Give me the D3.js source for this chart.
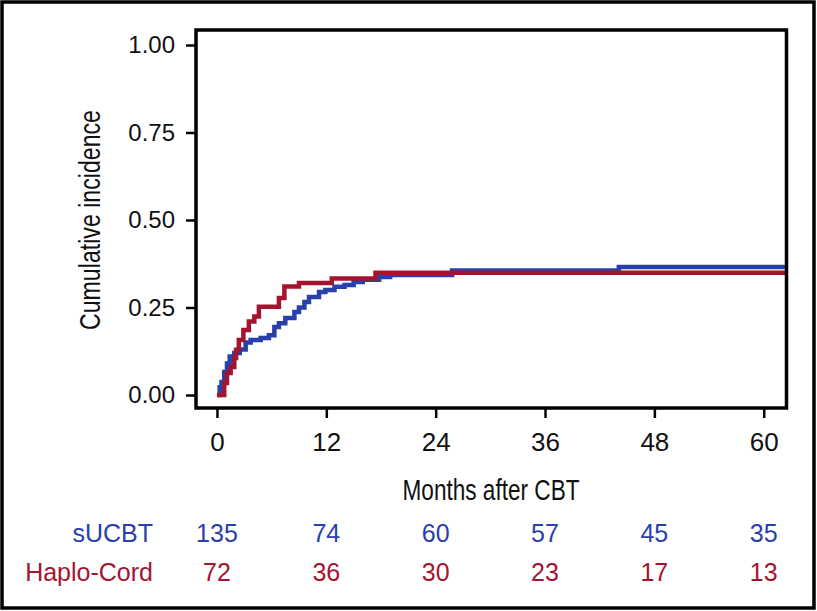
<!DOCTYPE html>
<html>
<head>
<meta charset="utf-8">
<style>
  body { margin: 0; background: #fff; }
  .frame { fill: none; stroke: #000; stroke-width: 3.5px; }
  .axis path { display: none; }
  .axis line { stroke: #000; stroke-width: 2.5px; }
  .axis text { font-family: "Liberation Sans", Arial, sans-serif; fill: #111; }
  .curve { fill: none; stroke-width: 4.5px; }
</style>
</head>
<body>
<script src="https://d3js.org/d3.v7.min.js"></script>
<script>
// step points [month, cumulative incidence]
var sucbt = [
  [0, 0], [0.3, 0.022], [0.5, 0.037], [0.8, 0.066], [1.1, 0.09], [1.4, 0.11],
  [1.9, 0.12], [2.5, 0.13], [3.15, 0.15], [3.7, 0.157], [4.8, 0.163], [5.7, 0.171],
  [6.3, 0.194], [6.8, 0.205], [7.5, 0.22], [8.5, 0.237], [9.0, 0.25], [9.6, 0.266],
  [10.1, 0.28], [11.2, 0.294], [11.9, 0.3], [12.9, 0.309], [14.0, 0.314],
  [15.0, 0.323], [16.0, 0.329], [17.8, 0.337], [19.0, 0.343], [25.8, 0.356],
  [44.1, 0.366], [62.5, 0.366]
];
var haplo = [
  [0, 0], [0.8, 0.034], [1.1, 0.063], [1.5, 0.08], [1.9, 0.106], [2.1, 0.129],
  [2.4, 0.157], [2.9, 0.186], [3.5, 0.21], [4.1, 0.224], [4.6, 0.252], [6.8, 0.277],
  [7.4, 0.31], [9.0, 0.32], [12.6, 0.333], [17.4, 0.349], [62.5, 0.349]
];
var xTicks = [0, 12, 24, 36, 48, 60];
var yTicks = [0, 0.25, 0.5, 0.75, 1];
var groups = ["sUCBT", "Haplo-Cord"];
var atRisk = [[135, 74, 60, 57, 45, 35], [72, 36, 30, 23, 17, 13]];
var colors = ["#2840ab", "#a5142f"];

var W = 817, H = 611;
var box = {left: 196, right: 786.5, top: 30, bottom: 408};

var svg = d3.select("body").append("svg")
  .attr("width", W).attr("height", H);

// outer frame around the whole figure
svg.append("rect").attr("class", "frame")
  .attr("x", 2).attr("y", 2).attr("width", W - 5).attr("height", H - 5);

var x = d3.scaleLinear().domain([-2.3, 62.5]).range([box.left, box.right]);
var y = d3.scaleLinear().domain([0, 1]).range([395, 45]);

svg.append("defs").append("clipPath").attr("id", "plotclip")
  .append("rect").attr("x", box.left).attr("y", box.top)
  .attr("width", box.right - box.left).attr("height", box.bottom - box.top);

// curves
var line = d3.line().curve(d3.curveStepAfter)
  .x(function(d) { return x(d[0]); })
  .y(function(d) { return y(d[1]); });

var plot = svg.append("g").attr("clip-path", "url(#plotclip)");
[sucbt, haplo].forEach(function(s, i) {
  plot.append("path").attr("class", "curve")
    .attr("d", line(s)).attr("stroke", colors[i]);
});

// plot box
svg.append("rect")
  .attr("x", box.left).attr("y", box.top)
  .attr("width", box.right - box.left).attr("height", box.bottom - box.top)
  .attr("fill", "none").attr("stroke", "#000").attr("stroke-width", 3.5);

// axes
var xAxis = svg.append("g").attr("class", "axis")
  .attr("transform", "translate(0," + box.bottom + ")")
  .call(d3.axisBottom(x).tickValues(xTicks).tickSize(10).tickPadding(15));
xAxis.selectAll("text").style("font-size", "26px");

var yAxis = svg.append("g").attr("class", "axis")
  .attr("transform", "translate(" + box.left + ",0)")
  .call(d3.axisLeft(y).tickValues(yTicks).tickFormat(d3.format(".2f")).tickSize(10).tickPadding(11));
yAxis.selectAll("text").style("font-size", "24px");

// axis titles (condensed)
svg.append("text")
  .attr("x", 491).attr("y", 500)
  .attr("text-anchor", "middle")
  .attr("textLength", 177).attr("lengthAdjust", "spacingAndGlyphs")
  .style("font-family", "Liberation Sans Narrow, Liberation Sans, sans-serif")
  .style("font-size", "30px").style("fill", "#111")
  .text("Months after CBT");

svg.append("text")
  .attr("transform", "translate(100,220) rotate(-90)")
  .attr("text-anchor", "middle")
  .attr("textLength", 220).attr("lengthAdjust", "spacingAndGlyphs")
  .style("font-family", "Liberation Sans Narrow, Liberation Sans, sans-serif")
  .style("font-size", "30px").style("fill", "#111")
  .text("Cumulative incidence");

// number at risk table
var rowY = [533, 572];
groups.forEach(function(g, i) {
  var row = svg.append("g")
    .style("font-family", "Liberation Sans, Arial, sans-serif")
    .style("font-size", "25px").style("fill", colors[i]);
  row.append("text")
    .attr("x", 153).attr("y", rowY[i]).attr("dy", "0.35em")
    .attr("text-anchor", "end").text(g);
  row.selectAll("text.n").data(atRisk[i]).enter().append("text")
    .attr("class", "n")
    .attr("x", function(d, j) { return x(xTicks[j]); })
    .attr("y", rowY[i]).attr("dy", "0.35em")
    .attr("text-anchor", "middle")
    .text(function(d) { return d; });
});
</script>
</body>
</html>
